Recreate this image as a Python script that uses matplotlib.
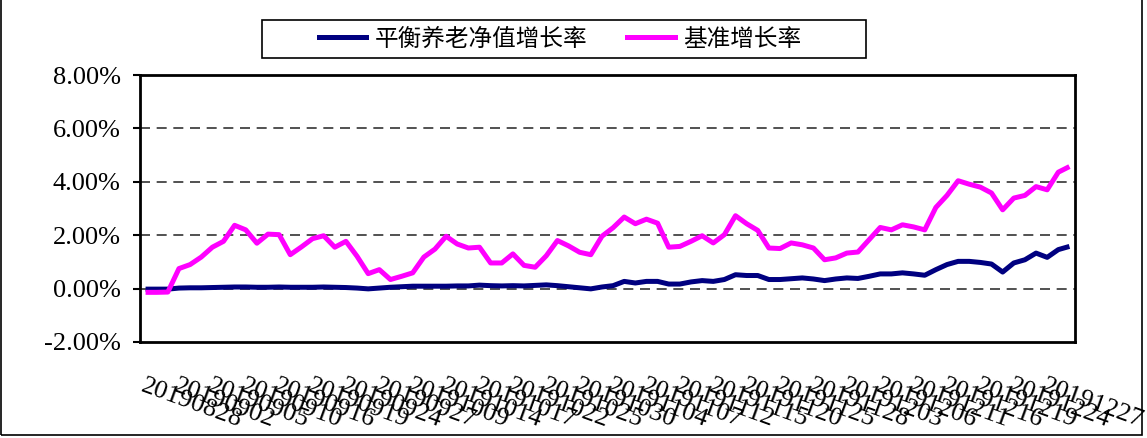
import matplotlib
matplotlib.use("Agg")
import matplotlib.pyplot as plt
from matplotlib.lines import Line2D
from matplotlib.patches import Rectangle

dates = ["20190828", "20190829", "20190830",
         "20190902", "20190903", "20190904", "20190905", "20190906",
         "20190909", "20190910", "20190911", "20190912",
         "20190916", "20190917", "20190918", "20190919", "20190920",
         "20190923", "20190924", "20190925", "20190926", "20190927",
         "20190930",
         "20191008", "20191009", "20191010", "20191011",
         "20191014", "20191015", "20191016", "20191017", "20191018",
         "20191021", "20191022", "20191023", "20191024", "20191025",
         "20191028", "20191029", "20191030", "20191031",
         "20191101",
         "20191104", "20191105", "20191106", "20191107", "20191108",
         "20191111", "20191112", "20191113", "20191114", "20191115",
         "20191118", "20191119", "20191120", "20191121", "20191122",
         "20191125", "20191126", "20191127", "20191128", "20191129",
         "20191202", "20191203", "20191204", "20191205", "20191206",
         "20191209", "20191210", "20191211", "20191212", "20191213",
         "20191216", "20191217", "20191218", "20191219", "20191220",
         "20191223", "20191224", "20191225", "20191226", "20191227",
         "20191230", "20191231"]

fund = [-0.02, -0.02, -0.02, 0.02, 0.03, 0.03, 0.04, 0.05, 0.06, 0.06,
        0.05, 0.05, 0.06, 0.05, 0.05, 0.05, 0.06, 0.05, 0.04, 0.02,
        -0.01, 0.02, 0.05, 0.07, 0.09, 0.09, 0.09, 0.09, 0.10, 0.10,
        0.13, 0.11, 0.10, 0.11, 0.10, 0.12, 0.14, 0.11, 0.07, 0.03,
        -0.01, 0.06, 0.11, 0.27, 0.21, 0.27, 0.27, 0.17, 0.17, 0.25,
        0.30, 0.27, 0.34, 0.52, 0.49, 0.49, 0.34, 0.34, 0.37, 0.40,
        0.36, 0.30, 0.36, 0.40, 0.38, 0.46, 0.55, 0.55, 0.59, 0.55,
        0.50, 0.71, 0.90, 1.02, 1.02, 0.98, 0.92, 0.62, 0.96, 1.08,
        1.33, 1.17, 1.46, 1.58]

bench = [-0.14, -0.14, -0.13, 0.75, 0.90, 1.18, 1.55, 1.77, 2.37, 2.20,
         1.70, 2.04, 2.02, 1.27, 1.56, 1.87, 1.98, 1.55, 1.77, 1.21,
         0.56, 0.71, 0.34, 0.46, 0.59, 1.18, 1.48, 1.96, 1.67, 1.52,
         1.55, 0.96, 0.96, 1.30, 0.87, 0.80, 1.23, 1.80, 1.60, 1.36,
         1.27, 1.96, 2.28, 2.68, 2.43, 2.60, 2.45, 1.55, 1.58, 1.77,
         1.98, 1.71, 2.02, 2.73, 2.43, 2.18, 1.52, 1.50, 1.71, 1.64,
         1.52, 1.08, 1.15, 1.33, 1.37, 1.83, 2.29, 2.20, 2.39, 2.31,
         2.20, 3.04, 3.49, 4.04, 3.91, 3.80, 3.58, 2.95, 3.39, 3.49,
         3.82, 3.70, 4.36, 4.57]

series_names = ["平衡养老净值增长率", "基准增长率"]
y_ticks = [-2, 0, 2, 4, 6, 8]

W, H = 1147, 438
fig = plt.figure(figsize=(W / 100, H / 100), dpi=100)
ax = fig.add_axes([140 / W, 1 - 342 / H, (1075 - 140) / W, (342 - 75) / H])

x = list(range(len(dates)))
ax.plot(x, fund, color="#000080", lw=3.6, solid_capstyle="butt", zorder=3)
ax.plot(x, bench, color="#FF00FF", lw=3.6, solid_capstyle="butt", zorder=3)

ax.set_xlim(-0.5, len(dates) - 0.5)
ax.set_ylim(-2, 8)
ax.set_yticks(y_ticks)
ax.set_yticklabels([f"{v:.2f}%" for v in y_ticks], family="Liberation Serif", fontsize=19)
for v in y_ticks[1:-1]:
    ax.axhline(v, color="#333333", lw=1.2, ls=(0, (6, 4)), zorder=1)

ax.set_xticks(x[::3])
ax.set_xticklabels(dates[::3], family="Liberation Serif", fontsize=19,
                   rotation=-20, ha="left", va="top", rotation_mode="anchor")
ax.tick_params(axis="x", length=0, pad=24)
ax.tick_params(axis="y", length=5, width=1.5, direction="out", pad=9)
for s in ax.spines.values():
    s.set_linewidth(2)
    s.set_color("black")

# legend
handles = [Line2D([], [], color="#000080", lw=3.6),
           Line2D([], [], color="#FF00FF", lw=3.6)]
leg = fig.legend(handles, series_names, loc="center",
                 bbox_to_anchor=(560 / W, 1 - 39 / H), ncol=2, frameon=False,
                 prop={"family": ["Noto Sans CJK SC", "DejaVu Sans"], "size": 17},
                 handlelength=2.0, handletextpad=0.35, columnspacing=1.7)
fig.patches.append(Rectangle((262 / W, 1 - 58 / H), (866 - 262) / W, 38 / H,
                             transform=fig.transFigure, fill=False,
                             edgecolor="black", lw=1.2))

# outer frame
fig.patches.append(Rectangle((1 / W, 1 - 435 / H), (1142 - 1) / W, 440 / H,
                             transform=fig.transFigure, fill=False,
                             edgecolor="black", lw=1.2))

fig.savefig("out.png", dpi=100)
